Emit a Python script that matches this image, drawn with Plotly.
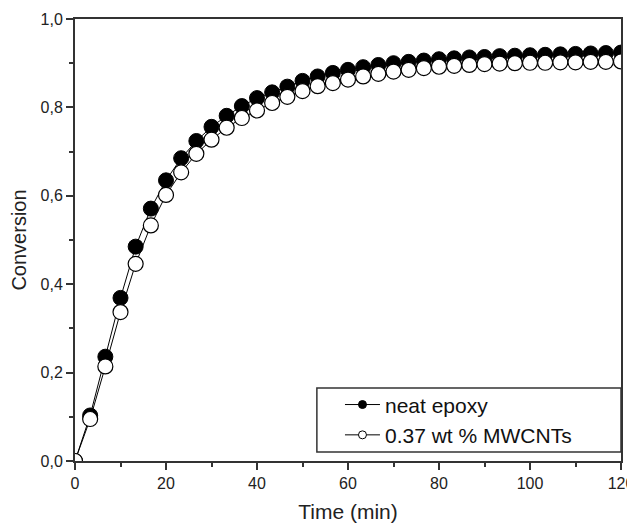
import plotly.graph_objects as go

time_min = [0, 3.33, 6.67, 10, 13.33, 16.67, 20, 23.33, 26.67, 30, 33.33, 36.67,
            40, 43.33, 46.67, 50, 53.33, 56.67, 60, 63.33, 66.67, 70, 73.33, 76.67,
            80, 83.33, 86.67, 90, 93.33, 96.67, 100, 103.33, 106.67, 110, 113.33,
            116.67, 120]

neat_epoxy = [0.0, 0.103, 0.236, 0.369, 0.485, 0.571, 0.635, 0.685, 0.724, 0.756,
              0.781, 0.803, 0.821, 0.834, 0.847, 0.860, 0.870, 0.878, 0.885, 0.891,
              0.896, 0.900, 0.903, 0.906, 0.909, 0.911, 0.913, 0.914, 0.916, 0.917,
              0.918, 0.919, 0.920, 0.921, 0.922, 0.923, 0.924]

mwcnt = [0.0, 0.095, 0.214, 0.337, 0.446, 0.533, 0.602, 0.653, 0.695, 0.727,
         0.754, 0.776, 0.793, 0.810, 0.824, 0.837, 0.848, 0.855, 0.863, 0.870,
         0.876, 0.881, 0.885, 0.889, 0.892, 0.894, 0.896, 0.898, 0.899, 0.900,
         0.901, 0.901, 0.902, 0.902, 0.903, 0.903, 0.904]

series_names = ["neat epoxy", "0.37 wt % MWCNTs"]
FONT = "Liberation Sans, Arial, sans-serif"

fig = go.Figure()
# data traces (legend handled by small-marker proxy traces below)
fig.add_trace(go.Scatter(
    x=time_min, y=neat_epoxy, mode="lines+markers", name=series_names[0],
    showlegend=False,
    line=dict(color="black", width=1),
    marker=dict(symbol="circle", size=15, color="black",
                line=dict(color="black", width=1)),
    cliponaxis=True))
fig.add_trace(go.Scatter(
    x=time_min, y=mwcnt, mode="lines+markers", name=series_names[1],
    showlegend=False,
    line=dict(color="black", width=1),
    marker=dict(symbol="circle", size=15, color="white",
                line=dict(color="black", width=1.2)),
    cliponaxis=True))
# legend proxies
fig.add_trace(go.Scatter(
    x=[None], y=[None], mode="lines+markers", name=series_names[0],
    line=dict(color="black", width=1),
    marker=dict(symbol="circle", size=8, color="black", line=dict(color="black", width=1))))
fig.add_trace(go.Scatter(
    x=[None], y=[None], mode="lines+markers", name=series_names[1],
    line=dict(color="black", width=1),
    marker=dict(symbol="circle", size=8, color="white", line=dict(color="black", width=1))))

axis_common = dict(
    showline=True, linecolor="#333333", linewidth=2, mirror=True,
    ticks="outside", tickcolor="#333333", tickwidth=1.5, ticklen=7,
    showgrid=False, zeroline=False, automargin=False,
    tickfont=dict(family=FONT, size=16, color="#222222"),
)

fig.update_xaxes(
    range=[0, 120], dtick=20, tick0=0,
    minor=dict(dtick=10, ticklen=4, tickcolor="#333333", ticks="outside"),
    title=dict(text="Time (min)", font=dict(family=FONT, size=21, color="#222222"),
               standoff=13),
    **axis_common)
fig.update_yaxes(
    range=[0, 1.0], dtick=0.2, tick0=0, tickformat=".1f",
    minor=dict(dtick=0.1, ticklen=4, tickcolor="#333333", ticks="outside"),
    title=dict(text="Conversion", font=dict(family=FONT, size=20, color="#222222"),
               standoff=12),
    **axis_common)

# legend frame (wider than plotly's auto-sized legend box)
fig.add_shape(type="rect", xref="paper", yref="paper",
              x0=0.443, x1=1.0, y0=0.0204, y1=0.165,
              line=dict(color="#333333", width=1.5), fillcolor="white",
              layer="below")

# page body has an 8px default margin, so the figure is sized/offset to compensate
fig.update_layout(
    width=627, height=516,
    margin=dict(l=67, r=14, t=11, b=63),
    paper_bgcolor="white", plot_bgcolor="white",
    separators=",.",
    showlegend=True,
    legend=dict(
        x=0.4853, xanchor="left", y=0.093, yanchor="middle",
        bgcolor="rgba(0,0,0,0)", borderwidth=0,
        font=dict(family=FONT, size=21, color="#111111"),
        itemwidth=35, tracegroupgap=0,
    ),
)

fig.write_html("out.html")
